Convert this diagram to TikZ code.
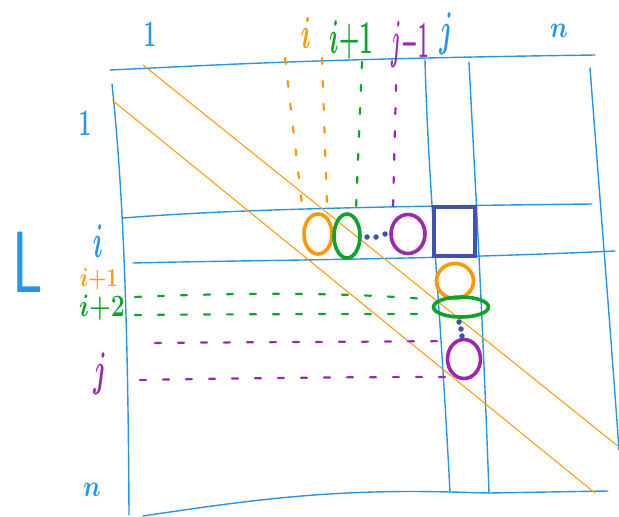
\documentclass[tikz,border=0pt]{standalone}
\usetikzlibrary{shapes.geometric}
\definecolor{gridblue}{RGB}{33,150,243}
\definecolor{orangec}{RGB}{255,152,0}
\definecolor{greenc}{RGB}{10,165,40}
\definecolor{purplec}{RGB}{156,39,176}
\definecolor{darkblue}{RGB}{63,81,181}
\newcommand{\hw}[3]{\scalebox{#1}[#2]{#3}}
\begin{document}
\begin{tikzpicture}[x=1pt,y=-1pt,
  gridline/.style={draw=gridblue, line width=1.4pt, line cap=round},
  diag/.style={draw=orangec, line width=1pt},
  dashline/.style={line width=2.2pt, line cap=round, dash pattern=on 6pt off 17pt},
  lab/.style={inner sep=0pt, font=\fontsize{24}{24}\selectfont\boldmath},
  ring/.style={ellipse, draw, line width=3.6pt, inner sep=0pt},
  dotn/.style={circle, fill=darkblue, inner sep=0pt, minimum size=5.5pt}]
\useasboundingbox (0,0) rectangle (619,517);

% ---- grid ----
\coordinate (tl) at (110,70);
\coordinate (tr) at (595,55);
\coordinate (lt) at (112,84);
\coordinate (lb) at (129,515);
\coordinate (rt) at (590,68);
\coordinate (rb) at (619,450);
\coordinate (bl) at (143,516);
\coordinate (br) at (608,491);
\draw[gridline] (tl) .. controls (200,66) and (300,59) .. (tr);
\draw[gridline] (lt) .. controls (122,180) and (128,300) .. (lb);
\draw[gridline] (rt) .. controls (600,200) and (612,350) .. (rb);
\draw[gridline] (bl) .. controls (250,500) and (330,489) .. (450,492) -- (489,493) -- (br);
% row i
\draw[gridline] (123,218) .. controls (200,212) and (300,207) .. (592,204);
\draw[gridline] (133,263) .. controls (250,260) and (420,260) .. (615,251);
% column j
\draw[gridline] (425,60) .. controls (428,180) and (440,300) .. (450,492);
\draw[gridline] (469,62) .. controls (475,180) and (482,300) .. (489,493);

% ---- diagonals ----
\draw[diag] (143,65) -- (619,447);
\draw[diag] (112,100) -- (595,493);

% ---- labels ----
\node[lab, text=gridblue] (c1) at (150,34) {\hw{0.9}{1.5}{\fontsize{36}{36}\selectfont$1$}};
\node[lab, text=orangec] (ci) at (306,33) {\hw{1}{1.8}{\fontsize{30}{30}\selectfont$i$}};
\node[lab, text=greenc] (ci1) at (351,40) {\hw{0.95}{1.9}{${i}{+}{1}$}};
\node[lab, text=purplec] (cj1) at (410,44) {\hw{0.75}{2.1}{${j}{-}{1}$}};
\node[lab, text=gridblue] (cj) at (446,34) {\hw{1}{1.9}{\fontsize{30}{30}\selectfont$j$}};
\node[lab, text=gridblue] (cn) at (559,31) {\hw{1}{1.2}{\fontsize{40}{40}\selectfont$n$}};

\node[lab, text=gridblue] (r1) at (85,123) {\hw{0.9}{1.5}{\fontsize{36}{36}\selectfont$1$}};
\node[lab, text=gridblue] (ri) at (98,241) {\hw{1}{1.9}{\fontsize{28}{28}\selectfont$i$}};
\node[lab, text=orangec] (ri1) at (99,279) {\hw{1}{1.25}{\fontsize{22}{22}\selectfont${i}{+}{1}$}};
\node[lab, text=greenc] (ri2) at (102,308) {\hw{1}{1.25}{\fontsize{25}{25}\selectfont${i}{+}{2}$}};
\node[lab, text=purplec] (rj) at (100,374) {\hw{1}{1.9}{\fontsize{32}{32}\selectfont$j$}};
\node[lab, text=gridblue] (rn) at (92,490) {\hw{1}{1.2}{\fontsize{40}{40}\selectfont$n$}};
\node[lab, text=gridblue] (bigL) at (28,262) {\hw{1}{1.45}{\fontsize{60}{60}\selectfont\sffamily L}};

% ---- dashed guide lines ----
\draw[dashline, orangec] (285,58) -- (302,205);
\draw[dashline, orangec] (322,58) -- (327,205);
\draw[dashline, greenc] (362,62) -- (356,210);
\draw[dashline, purplec] (396,85) -- (393,208);
\draw[dashline, greenc] (135,297) .. controls (250,292) and (350,293) .. (425,299);
\draw[dashline, greenc] (135,315) .. controls (250,314) and (350,314) .. (420,314);
\draw[dashline, purplec] (155,343) .. controls (250,342) and (350,342) .. (448,341);
\draw[dashline, purplec] (140,380) .. controls (250,378) and (350,377) .. (450,377);

% ---- cells ----
\node[ring, draw=orangec, minimum width=28pt, minimum height=40pt] (oi) at (318,234) {};
\node[ring, draw=greenc, minimum width=26pt, minimum height=44pt] (gi) at (347,236) {};
\node[dotn] (d1) at (367,237) {};
\node[dotn] (d2) at (376,237) {};
\node[dotn] (d3) at (385,234) {};
\node[ring, draw=purplec, minimum width=34pt, minimum height=39pt] (pi) at (408,234) {};
\node[draw=darkblue, line width=4.5pt, minimum width=41pt, minimum height=49pt, inner sep=0pt] (sq) at (454.5,231.5) {};
\node[ring, draw=orangec, minimum width=37pt, minimum height=35pt] (oj) at (455,281) {};
\node[ring, draw=greenc, minimum width=55pt, minimum height=20pt] (gj) at (461,307) {};
\node[dotn] (d4) at (459,322) {};
\node[dotn] (d5) at (461,329) {};
\node[dotn] (d6) at (462,336) {};
\node[ring, draw=purplec, minimum width=33pt, minimum height=39pt] (pj) at (464,359) {};
\end{tikzpicture}
\end{document}
